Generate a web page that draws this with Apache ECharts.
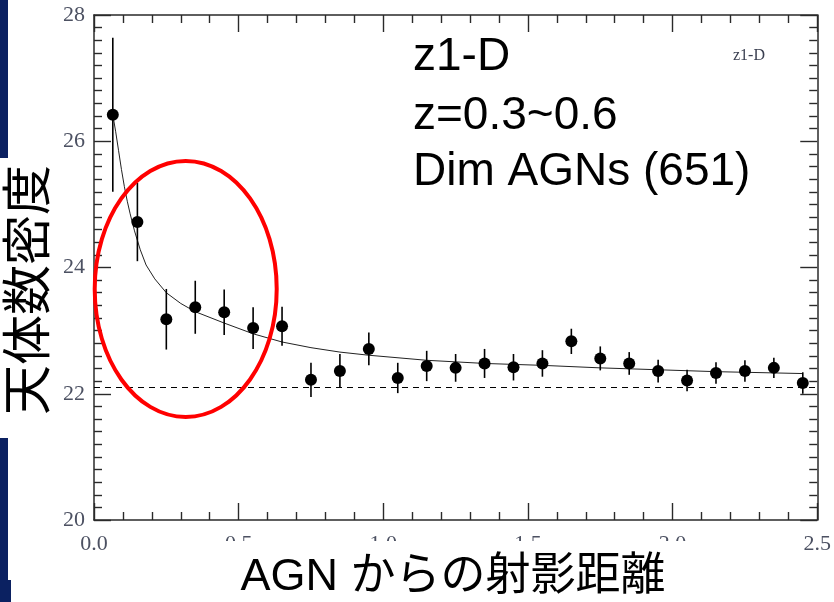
<!DOCTYPE html>
<html>
<head>
<meta charset="utf-8">
<script src="https://cdn.jsdelivr.net/npm/echarts@6/dist/echarts.min.js"></script>
<style>
html,body{margin:0;padding:0;background:#fff;}
#chart{width:834px;height:602px;}
</style>
</head>
<body>
<div id="chart"></div>
<script>
// ---- data ----
var binX = [0.065, 0.15, 0.25, 0.35, 0.45, 0.55, 0.65, 0.75, 0.85, 0.95, 1.05, 1.15, 1.25, 1.35, 1.45, 1.55, 1.65, 1.75, 1.85, 1.95, 2.05, 2.15, 2.25, 2.35, 2.45];
var density = [26.42, 24.72, 23.18, 23.37, 23.29, 23.04, 23.07, 22.22, 22.36, 22.71, 22.25, 22.44, 22.41, 22.48, 22.42, 22.48, 22.83, 22.56, 22.48, 22.36, 22.21, 22.33, 22.36, 22.41, 22.17];
var densityErr = [1.22, 0.62, 0.48, 0.42, 0.36, 0.33, 0.31, 0.27, 0.27, 0.26, 0.24, 0.24, 0.22, 0.23, 0.21, 0.21, 0.20, 0.19, 0.18, 0.18, 0.17, 0.17, 0.17, 0.16, 0.17];
var fitX = [0.065, 0.075, 0.085, 0.095, 0.105, 0.115, 0.125, 0.14, 0.16, 0.18, 0.21, 0.25, 0.30, 0.35, 0.45, 0.55, 0.65, 0.75, 0.85, 0.95, 1.15, 1.35, 1.55, 1.75, 1.95, 2.15, 2.35, 2.45];
var fitY = [26.42, 26.15, 25.85, 25.55, 25.28, 25.05, 24.85, 24.58, 24.28, 24.04, 23.82, 23.60, 23.43, 23.30, 23.12, 22.95, 22.82, 22.73, 22.66, 22.61, 22.53, 22.48, 22.45, 22.41, 22.38, 22.35, 22.33, 22.32];
var backgroundLevel = 22.1;
var xTickLabels = ['0.0', '0.5', '1.0', '1.5', '2.0', '2.5'];
var yTickLabels = ['20', '22', '24', '26', '28'];
var annotationLines = ['z1-D', 'z=0.3~0.6', 'Dim AGNs (651)'];
var histName = 'z1-D';
var xTitle = 'AGN からの射影距離';
var yTitle = '天体数密度';
var highlightCenter = [0.317, 23.66];

// ---- build ----
var pts = binX.map(function (x, i) { return [x, density[i]]; });
var bars = binX.map(function (x, i) { return [x, density[i] - densityErr[i], density[i] + densityErr[i]]; });
var fit = fitX.map(function (x, i) { return [x, fitY[i]]; });

var axisColor = '#2a2a2a';
var labelColor = '#4c5162';
var serif = "'Liberation Serif','DejaVu Serif',serif";
var sans = "'Liberation Sans',Arial,sans-serif";
var cjk = "'Liberation Sans','Noto Sans CJK JP',sans-serif";

function xAxisCfg(pos, showLabel) {
  return {
    type: 'value', position: pos, min: 0, max: 2.5, interval: 0.5,
    axisLine: { show: true, onZero: false, lineStyle: { color: axisColor, width: 1.5 } },
    axisTick: { show: true, inside: true, length: 17, lineStyle: { color: axisColor, width: 1.4 } },
    minorTick: { show: true, splitNumber: 5, length: 8, lineStyle: { color: axisColor, width: 1.4 } },
    splitLine: { show: false },
    axisLabel: {
      show: showLabel, margin: 13, fontFamily: serif, fontSize: 22, color: labelColor,
      formatter: function (v) { return xTickLabels[Math.round(v / 0.5)]; }
    }
  };
}
function yAxisCfg(pos, showLabel) {
  return {
    type: 'value', position: pos, min: 20, max: 28, interval: 2,
    axisLine: { show: true, onZero: false, lineStyle: { color: axisColor, width: 1.5 } },
    axisTick: { show: true, inside: true, length: 17, lineStyle: { color: axisColor, width: 1.4 } },
    minorTick: { show: true, splitNumber: 10, length: 8, lineStyle: { color: axisColor, width: 1.4 } },
    splitLine: { show: false },
    axisLabel: {
      show: showLabel, margin: 9, fontFamily: serif, fontSize: 22, color: labelColor,
      formatter: function (v) { return yTickLabels[Math.round((v - 20) / 2)]; }
    }
  };
}

var chart = echarts.init(document.getElementById('chart'), null, { renderer: 'canvas' });

var option = {
  backgroundColor: '#fff',
  animation: false,
  grid: { left: 94, right: 15, top: 15, bottom: 82, containLabel: false },
  xAxis: [xAxisCfg('bottom', true), xAxisCfg('top', false)],
  yAxis: [yAxisCfg('left', true), yAxisCfg('right', false)],
  series: [
    {
      name: 'fit', type: 'line', data: fit, showSymbol: false, symbol: 'none',
      smooth: false,
      lineStyle: { color: '#222', width: 1 }, z: 2,
      markLine: {
        silent: true, symbol: 'none', label: { show: false },
        lineStyle: { color: '#000', width: 1.2, type: [6, 5] },
        data: [{ yAxis: backgroundLevel }]
      }
    },
    {
      name: 'err', type: 'custom', data: bars, z: 3,
      renderItem: function (params, api) {
        var p1 = api.coord([api.value(0), api.value(1)]);
        var p2 = api.coord([api.value(0), api.value(2)]);
        return {
          type: 'line',
          shape: { x1: p1[0], y1: p1[1], x2: p2[0], y2: p2[1] },
          style: { stroke: '#000', lineWidth: 1.6 }
        };
      }
    },
    {
      name: 'density', type: 'scatter', data: pts, symbol: 'circle', symbolSize: 12,
      itemStyle: { color: '#000', opacity: 1 }, z: 4
    }
  ],
  graphic: []
};
chart.setOption(option);

var c = chart.convertToPixel({ gridIndex: 0 }, highlightCenter);
chart.setOption({
  graphic: [
    { type: 'rect', shape: { x: 0, y: 0, width: 8, height: 158 }, style: { fill: '#0b2161' }, z: 10 },
    { type: 'rect', shape: { x: 0, y: 438, width: 8, height: 164 }, style: { fill: '#0b2161' }, z: 10 },
    { type: 'rect', shape: { x: 0, y: 580, width: 11, height: 22 }, style: { fill: '#0b2161' }, z: 10 },
    { type: 'ellipse', shape: { cx: c[0], cy: c[1], rx: 91, ry: 128 },
      style: { fill: 'none', stroke: '#ff0000', lineWidth: 4 }, z: 20 },
    { type: 'text', x: 413, y: 57, z: 20,
      style: { text: annotationLines[0], font: '46px ' + sans, fill: '#000', textVerticalAlign: 'middle', verticalAlign: 'middle' } },
    { type: 'text', x: 413, y: 116, z: 20,
      style: { text: annotationLines[1], font: '46px ' + sans, fill: '#000', textVerticalAlign: 'middle', verticalAlign: 'middle' } },
    { type: 'text', x: 413, y: 172, z: 20,
      style: { text: annotationLines[2], font: '46px ' + sans, fill: '#000', textVerticalAlign: 'middle', verticalAlign: 'middle' } },
    { type: 'text', x: 733, y: 56, z: 20,
      style: { text: histName, font: '16px ' + serif, fill: '#3a3f50', textVerticalAlign: 'middle', verticalAlign: 'middle' } },
    { type: 'rect', shape: { x: 200, y: 541, width: 505, height: 61 }, style: { fill: '#fff' }, z: 30 },
    { type: 'text', x: 453, y: 578, z: 31,
      style: { text: xTitle, font: '45px ' + cjk, fill: '#000', textAlign: 'center', align: 'center', textVerticalAlign: 'middle', verticalAlign: 'middle' } },
    { type: 'text', x: 31, y: 290, rotation: Math.PI / 2, z: 31,
      style: { text: yTitle, font: '50px ' + cjk, fill: '#000', textAlign: 'center', align: 'center', textVerticalAlign: 'middle', verticalAlign: 'middle' } }
  ]
});
</script>
</body>
</html>
